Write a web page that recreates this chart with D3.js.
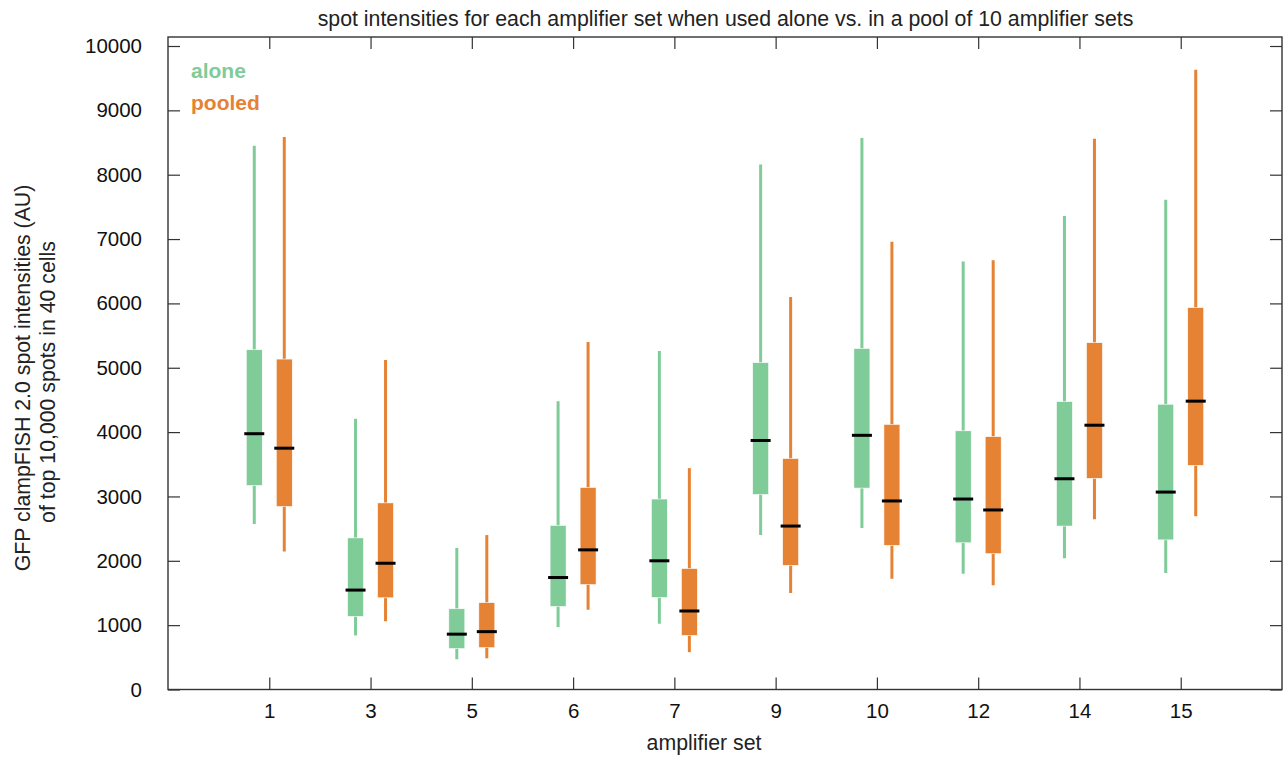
<!DOCTYPE html>
<html>
<head>
<meta charset="utf-8">
<script src="https://cdn.jsdelivr.net/npm/d3@7"></script>
<style>
  body { margin: 0; background: #fff; }
  svg { font-family: "Liberation Sans", Arial, Helvetica, sans-serif; }
</style>
</head>
<body>
<div id="chart"></div>
<script>
// amplifier sets on the x axis
var sets = ["1", "3", "5", "6", "7", "9", "10", "12", "14", "15"];

// box stats: [min, q1, median, q3, max]
var alone = [
  [2570, 3170, 3975, 5280, 8450],
  [840, 1135, 1545, 2356, 4207],
  [470, 635, 860, 1255, 2200],
  [970, 1290, 1740, 2550, 4480],
  [1020, 1430, 2000, 2960, 5260],
  [2400, 3030, 3870, 5080, 8160],
  [2510, 3130, 3950, 5300, 8570],
  [1800, 2280, 2960, 4020, 6650],
  [2040, 2540, 3275, 4475, 7360],
  [1810, 2325, 3068, 4433, 7610]
];
var pooled = [
  [2145, 2843, 3750, 5135, 8585],
  [1060, 1425, 1962, 2900, 5120],
  [485, 650, 899, 1350, 2400],
  [1240, 1630, 2170, 3140, 5400],
  [580, 840, 1220, 1880, 3440],
  [1500, 1930, 2540, 3590, 6100],
  [1720, 2240, 2930, 4120, 6960],
  [1620, 2110, 2790, 3930, 6670],
  [2646, 3281, 4107, 5390, 8560],
  [2694, 3483, 4481, 5936, 9630]
];
var yTicks = [0, 1000, 2000, 3000, 4000, 5000, 6000, 7000, 8000, 9000, 10000];

var W = 1288, H = 757;
var plotL = 168, plotR = 1282, plotT = 37, plotB = 689.5;

var svg = d3.select("#chart").append("svg")
    .attr("width", W)
    .attr("height", H);

var x = d3.scaleLinear().domain([0, sets.length + 1]).range([plotL, plotR]);
var y = d3.scaleLinear().domain([0, 10140]).range([plotB, plotT]);

var green = "#7fcc98", orange = "#e68234";
var boxW = 16, off = 15;

// axes, ticks pointing inward on all four sides
var tickIdx = sets.map(function(d, i) { return i + 1; });

svg.append("g")
    .attr("transform", "translate(0," + plotB + ")")
    .call(d3.axisBottom(x).tickValues(tickIdx).tickSize(-12).tickPadding(14)
      .tickFormat(function(d) { return sets[d - 1]; }));
svg.append("g")
    .attr("transform", "translate(0," + plotT + ")")
    .call(d3.axisTop(x).tickValues(tickIdx).tickSize(-12).tickFormat(""));
svg.append("g")
    .attr("transform", "translate(" + plotL + ",0)")
    .call(d3.axisLeft(y).tickValues(yTicks).tickSize(-12).tickPadding(26)
      .tickFormat(d3.format("d")));
svg.append("g")
    .attr("transform", "translate(" + plotR + ",0)")
    .call(d3.axisRight(y).tickValues(yTicks).tickSize(-12).tickFormat(""));

svg.selectAll(".domain").remove();
svg.selectAll(".tick line").attr("stroke", "#333").attr("stroke-width", 1.2);
svg.selectAll(".tick text").attr("font-size", 20.5).attr("fill", "#111")
    .attr("font-family", "Liberation Sans, Arial, sans-serif");

svg.append("rect")
    .attr("x", plotL).attr("y", plotT)
    .attr("width", plotR - plotL).attr("height", plotB - plotT)
    .attr("fill", "none").attr("stroke", "#333").attr("stroke-width", 1.4);

function drawBoxes(data, color, dx) {
  var g = svg.append("g");
  var b = g.selectAll("g").data(data).enter().append("g")
      .attr("transform", function(d, i) { return "translate(" + (x(i + 1) + dx) + ",0)"; });
  b.append("line")
      .attr("y1", function(d) { return y(d[0]); })
      .attr("y2", function(d) { return y(d[4]); })
      .attr("stroke", color).attr("stroke-width", 3);
  b.append("rect")
      .attr("x", -boxW / 2).attr("width", boxW)
      .attr("y", function(d) { return y(d[3]); })
      .attr("height", function(d) { return y(d[1]) - y(d[3]); })
      .attr("fill", color).attr("stroke", "#fff").attr("stroke-width", 0.6);
  b.append("line")
      .attr("x1", -boxW / 2 - 2).attr("x2", boxW / 2 + 2)
      .attr("y1", function(d) { return y(d[2]); })
      .attr("y2", function(d) { return y(d[2]); })
      .attr("stroke", "#000").attr("stroke-width", 3);
}
drawBoxes(alone, green, -off);
drawBoxes(pooled, orange, off);

// legend
svg.append("text").attr("x", 191).attr("y", 78)
    .attr("font-size", 21).attr("font-weight", "bold").attr("fill", green).text("alone");
svg.append("text").attr("x", 191).attr("y", 110)
    .attr("font-size", 21).attr("font-weight", "bold").attr("fill", orange).text("pooled");

// title and axis labels
svg.append("text").attr("x", 725.5).attr("y", 26)
    .attr("text-anchor", "middle").attr("font-size", 21.3).attr("fill", "#222")
    .text("spot intensities for each amplifier set when used alone vs. in a pool of 10 amplifier sets");
svg.append("text").attr("x", 704).attr("y", 750)
    .attr("text-anchor", "middle").attr("font-size", 21.3).attr("fill", "#222")
    .text("amplifier set");

var yl = svg.append("text")
    .attr("transform", "translate(0,378) rotate(-90)")
    .attr("text-anchor", "middle").attr("font-size", 21.3).attr("fill", "#222");
yl.append("tspan").attr("x", 0).attr("y", 30).text("GFP clampFISH 2.0 spot intensities (AU)");
yl.append("tspan").attr("x", -4).attr("y", 55).text("of top 10,000 spots in 40 cells");
</script>
</body>
</html>
